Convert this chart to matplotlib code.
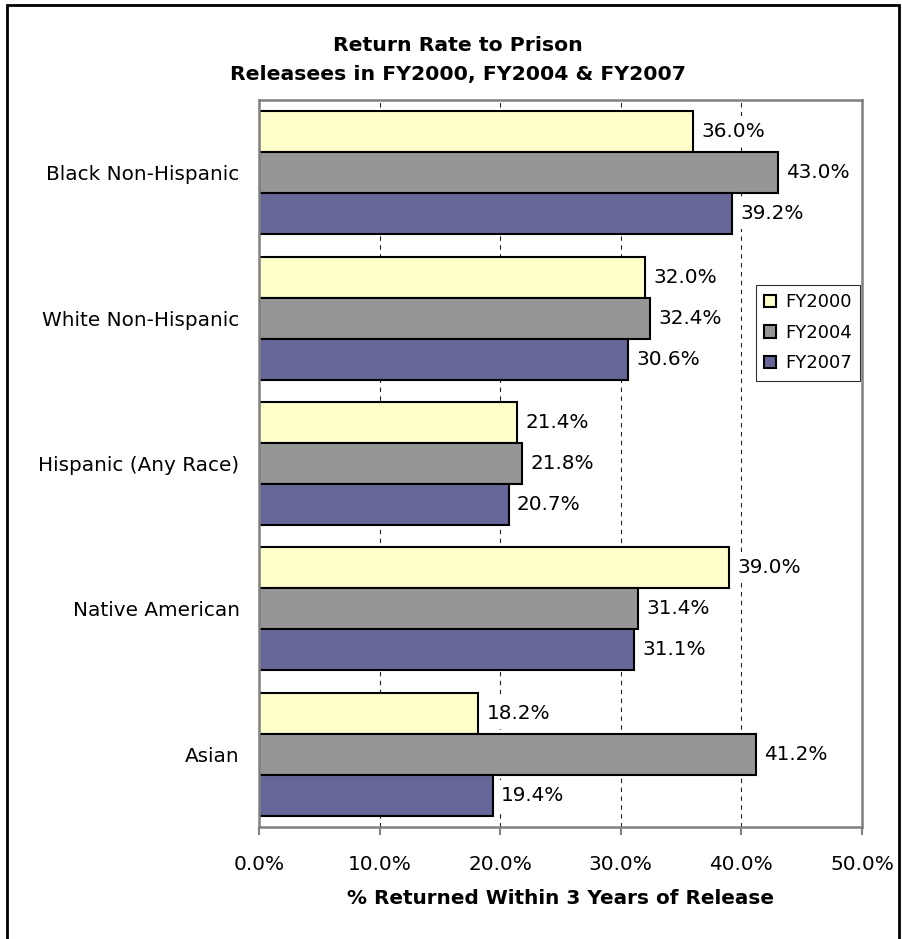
import numpy as np
import matplotlib
matplotlib.use('Agg')
import matplotlib.pyplot as plt
from matplotlib.patches import Rectangle
from matplotlib.ticker import MultipleLocator, FuncFormatter

groups = ['Black Non-Hispanic', 'White Non-Hispanic', 'Hispanic (Any Race)',
          'Native American', 'Asian']
years = ['FY2000', 'FY2004', 'FY2007']
fy2000 = [36.0, 32.0, 21.4, 39.0, 18.2]
fy2004 = [43.0, 32.4, 21.8, 31.4, 41.2]
fy2007 = [39.2, 30.6, 20.7, 31.1, 19.4]

colors = ['#FFFFCC', '#969696', '#666699']
series = [fy2000, fy2004, fy2007]

fig = plt.figure(figsize=(9.02, 9.39), dpi=100)
ax = fig.add_axes([259 / 902, 1 - 827 / 939, 603 / 902, 727 / 939])

bar_h = 0.282
y = np.arange(len(groups))
for i, (vals, col, name) in enumerate(zip(series, colors, years)):
    pos = y + (i - 1) * bar_h
    bars = ax.barh(pos, vals, height=bar_h, color=col, edgecolor='black',
                   linewidth=1.5, label=name, zorder=2)
    for b, v in zip(bars, vals):
        ax.annotate(f'{v:.1f}%', (v, b.get_y() + b.get_height() / 2),
                    xytext=(6, 0), textcoords='offset points',
                    va='center', ha='left', fontsize=14.4, zorder=5,
                    bbox=dict(boxstyle='square,pad=0.3', fc='white', ec='none'))

ax.set_xlim(0, 50)
ax.set_ylim(len(groups) - 0.5, -0.5)
ax.xaxis.set_major_locator(MultipleLocator(10))
ax.xaxis.set_major_formatter(FuncFormatter(lambda v, p: f'{v:.1f}%'))
ax.set_yticks(y)
ax.set_yticklabels(groups)

ax.set_axisbelow(True)
ax.grid(axis='x', color='#222222', linewidth=0.8, linestyle=(0, (4, 4)))
for s in ax.spines.values():
    s.set_color('#808080')
    s.set_linewidth(1.8)

ax.tick_params(axis='x', direction='out', length=6, width=1.5, color='#808080',
               labelsize=14.4, pad=14)
ax.tick_params(axis='y', length=0, labelsize=14.4, pad=14)

ax.set_xlabel('% Returned Within 3 Years of Release', fontsize=14.4,
              fontweight='bold', labelpad=11)

fig.text(458 / 902, 1 - 51 / 939, 'Return Rate to Prison', ha='center',
         va='baseline', fontsize=14.7, fontweight='bold')
fig.text(458 / 902, 1 - 80 / 939, 'Releasees in FY2000, FY2004 & FY2007',
         ha='center', va='baseline', fontsize=14.7, fontweight='bold')

leg = ax.legend(loc='upper right', bbox_to_anchor=(0.997, 0.7455), fontsize=13,
                frameon=True, fancybox=False, handlelength=0.7,
                handleheight=0.7, handletextpad=0.5, borderpad=0.45,
                labelspacing=0.7, borderaxespad=0)
leg.get_frame().set_edgecolor('black')
leg.get_frame().set_linewidth(0.8)

# outer chart border
fig.patches.append(Rectangle((7 / 902, -0.02), 892 / 902, 1.02 - 5 / 939,
                             transform=fig.transFigure, fill=False,
                             edgecolor='black', linewidth=2))

fig.savefig('out.png', dpi=100)
